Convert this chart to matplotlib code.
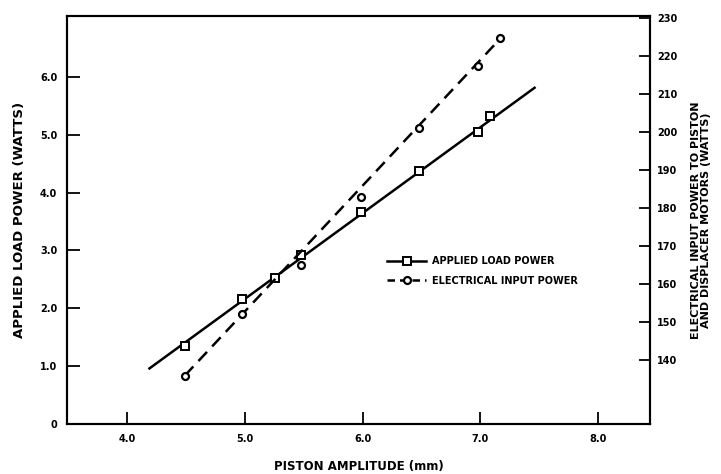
import numpy as np
import matplotlib
matplotlib.use("Agg")
import matplotlib.pyplot as plt

plt.rcParams["font.family"] = ["DejaVu Sans"]
plt.rcParams["font.weight"] = "bold"
plt.rcParams["axes.labelweight"] = "bold"

# piston amplitude (mm) and applied load power (W), left axis
load_x = [4.49, 4.98, 5.26, 5.48, 5.99, 6.48, 6.98, 7.08]
load_y = [1.35, 2.16, 2.53, 2.92, 3.66, 4.38, 5.05, 5.32]
load_fit_x = [4.19, 7.46]
load_fit_y = [0.96, 5.81]

# electrical input power (W), right axis
elec_x = [4.49, 4.98, 5.48, 5.99, 6.48, 6.98, 7.17]
elec_y = [136.0, 152.2, 165.0, 182.8, 201.1, 217.2, 224.5]
elec_fit_x = [4.49, 7.17]
elec_fit_y = [136.0, 224.5]

x_ticks = [4.0, 5.0, 6.0, 7.0, 8.0]
left_ticks = [0, 1, 2, 3, 4, 5, 6]
left_labels = ["0", "1.0", "2.0", "3.0", "4.0", "5.0", "6.0"]
right_ticks = [140, 150, 160, 170, 180, 190, 200, 210, 220, 230]

fig = plt.figure(figsize=(7.21, 4.74), dpi=100)
ax = fig.add_axes([67 / 721, 50 / 474, 583 / 721, 408 / 474])
ax2 = ax.twinx()

ax.plot(load_fit_x, load_fit_y, color="black", lw=1.8)
ax.plot(load_x, load_y, linestyle="none", marker="s", ms=6,
        mfc="white", mec="black", mew=1.4)

ax2.plot(elec_fit_x, elec_fit_y, color="black", lw=1.8, linestyle=(0, (5, 3)))
ax2.plot(elec_x, elec_y, linestyle="none", marker="o", ms=5,
         mfc="white", mec="black", mew=1.6)

ax.set_xlim(3.49, 8.44)
ax.set_ylim(0, 7.05)
ax2.set_ylim(123.3, 230.4)

ax.set_xticks(x_ticks)
ax.set_xticklabels([f"{v:.1f}" for v in x_ticks])
ax.set_yticks(left_ticks)
ax.set_yticklabels(left_labels)
ax2.set_yticks(right_ticks)

ax.tick_params(axis="both", direction="in", length=9, width=1.3,
               labelsize=7, pad=7)
ax2.tick_params(axis="y", direction="in", length=8, width=1.3,
                labelsize=7, pad=5)
for a in (ax, ax2):
    for s in a.spines.values():
        s.set_linewidth(1.5)

ax.set_xlabel("PISTON AMPLITUDE (mm)", fontsize=8.5, labelpad=12)
ax.set_ylabel("APPLIED LOAD POWER (WATTS)", fontsize=9.5, labelpad=10)
ax2.set_ylabel("ELECTRICAL INPUT POWER TO PISTON\nAND DISPLACER MOTORS (WATTS)",
               fontsize=8, rotation=90, labelpad=10, linespacing=1.0)

h1 = plt.Line2D([], [], color="black", lw=1.8, marker="s", ms=6,
                mfc="white", mec="black", mew=1.4)
h2 = plt.Line2D([], [], color="black", lw=1.8, linestyle=(0, (3, 2)),
                marker="o", ms=5, mfc="white", mec="black", mew=1.6)
ax.legend([h1, h2], ["APPLIED LOAD POWER", "ELECTRICAL INPUT POWER"],
          loc="center left", bbox_to_anchor=(0.549, 0.375), frameon=False,
          fontsize=7, handlelength=4, handletextpad=0.6, labelspacing=1.0,
          borderpad=0, borderaxespad=0)

fig.savefig("out.png", dpi=100)
